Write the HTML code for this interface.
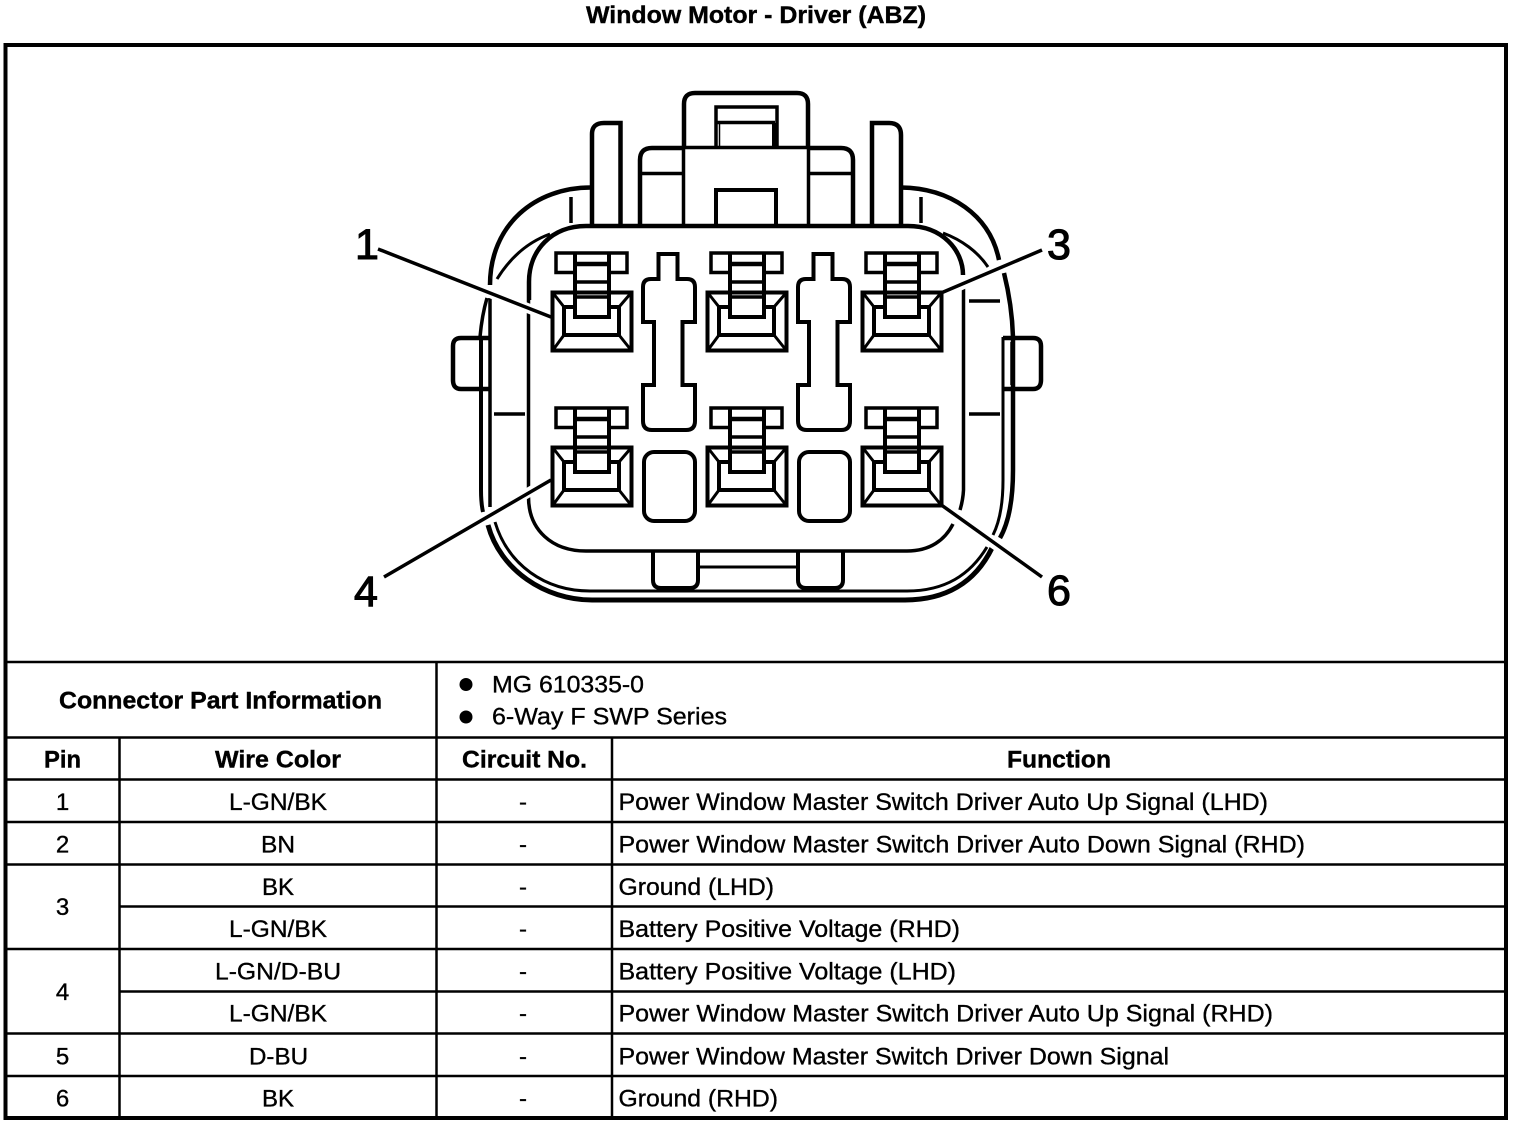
<!DOCTYPE html>
<html><head><meta charset="utf-8"><style>
html,body{margin:0;padding:0;background:#fff}
svg{display:block}
text{font-family:"Liberation Sans",sans-serif;fill:#000}
.b{font-weight:bold}
.t{font-size:24px;stroke:#000;stroke-width:.35px}
.h{font-size:24px;stroke:#000;stroke-width:.4px}
.n{font-size:43px;stroke:#000;stroke-width:1.1px}
.c{text-anchor:middle}
</style></head><body>
<svg width="1520" height="1126" viewBox="0 0 1520 1126" xmlns="http://www.w3.org/2000/svg">
<defs>
<g id="cav" fill="none" stroke="#000">
<path stroke-width="4" d="M552.500 292.500H631.500V350.500H552.500Z"/>
<path stroke-width="4" d="M575 307H564V335H619V307H608"/>
<path stroke-width="3" d="M553 293L564 307M631 293L619 307M553 350L564 335M631 350L619 335"/>
<path stroke-width="3.500" d="M574 272.500H556V253H627V272.500H609"/>
<path stroke-width="4" d="M575 253V317H609V253"/>
<path stroke-width="4.500" d="M575 264H609"/>
<path stroke-width="3.500" d="M575 282H609M575 297H609"/>
</g>
<path id="key" fill="none" stroke="#000" stroke-width="4" d="M658.500 254H677.500V279H687Q695 279 695 287V322H682.500V385H695V421Q695 430 686 430H652Q643 430 643 421V385H654V322H643V287Q643 279 651 279H658.500Z"/>
<rect id="sq" x="644" y="452" width="51" height="69" rx="10" fill="none" stroke="#000" stroke-width="4"/>
</defs>

<text class="b h" x="586" y="23" textLength="340" lengthAdjust="spacingAndGlyphs">Window Motor - Driver (ABZ)</text>

<rect x="5.500" y="45" width="1500.500" height="1073" fill="none" stroke="#000" stroke-width="4"/>

<g fill="none" stroke="#000" stroke-width="3">
<path stroke-width="4.500" d="M592 225V134Q592 123 604 123H620.500V225"/>
<path stroke-width="4.500" d="M872 225V123H889Q901 123 901 135V225"/>
<path stroke-width="4.500" d="M640 225V160Q640 148 652 148H683"/>
<path stroke-width="4.500" d="M809 148H841Q853 148 853 160V225"/>
<path stroke-width="3.500" d="M640 173.500H683M809 173.500H853"/>
<path stroke-width="4.500" d="M684 148V104Q684 93 695 93H797Q808 93 808 104V148"/>
<path stroke-width="3.500" d="M683.500 148V225M808.500 148V225M683 147.500H809"/>
<path stroke-width="3.500" d="M716 147V107H777V147"/>
<path stroke-width="3.500" d="M717 122.500H775"/>
<path stroke-width="1.500" d="M719.500 122V147"/>
<path stroke-width="5" d="M774.500 123V147"/>
<path stroke-width="4" d="M716 225V190H776V225"/>
<path stroke-width="4.500" d="M529 300V282C529 250 552 226 586 226H908C942 226 963 250 963 275"/>
<path stroke-width="3.500" d="M963.500 285V490Q963 500 960 510"/>
<path stroke-width="3.500" d="M528.500 300V497C528.500 530 552 551 586 551H907C930 551 945 540 953 524"/>
<path stroke-width="4.500" d="M592 187.500C535 187 490 225 490 285"/>
<path stroke-width="4.500" d="M901 187.500C950 188 990 215 999 260"/>
<path stroke-width="3.500" d="M490 298V507"/>
<path stroke-width="4" d="M481 337V490Q481 503 483 512"/>
<path stroke-width="3.500" d="M487 298Q482 315 480 337"/>
<path stroke-width="4.500" d="M1004 273Q1012 305 1013 337V470Q1013 515 1000 538"/>
<path stroke-width="3" d="M1003 337V480Q1003 515 993 535"/>
<path stroke-width="5" d="M488 525C500 570 545 600 592 600H905C945 600 975 583 992 548"/>
<path stroke-width="3" d="M495 522C508 565 545 591 590 591H907C945 591 970 575 987 547"/>
<path stroke-width="3" d="M497 279C510 258 528 242 550 234"/>
<path stroke-width="3" d="M943 233C962 240 978 252 988 267"/>
<path stroke-width="3.500" d="M571 197V223M921 197V223"/>
<path stroke-width="3.500" d="M969 301H1000M494 414H525M969 414H1000"/>
<path stroke-width="4.500" d="M489 338H461Q453 338 453 346V380Q453 389 461 389H489"/>
<path stroke-width="3.500" d="M481 342V385"/>
<path stroke-width="4.500" d="M1003 338H1033Q1041 338 1041 346V380Q1041 389 1033 389H1003"/>
<path stroke-width="3.500" d="M1012 342V385"/>
<path stroke-width="4" d="M653 552V580Q653 588 661 588H690Q698 588 698 580V552"/>
<path stroke-width="4" d="M798 552V580Q798 588 806 588H835Q843 588 843 580V552"/>
<path stroke-width="3" d="M698 567H798"/>
</g>

<g stroke="#fff" stroke-width="10" fill="none">
<path d="M470 285L545 315M950 290L1025 257M545 483L470 526M945 510L1020 562"/>
</g>

<use href="#cav"/><use href="#cav" x="155"/><use href="#cav" x="310"/>
<use href="#cav" y="155"/><use href="#cav" x="155" y="155"/><use href="#cav" x="310" y="155"/>
<use href="#key"/><use href="#key" x="155"/>
<use href="#sq"/><use href="#sq" x="155"/>

<g stroke="#000" stroke-width="3.500" fill="none">
<path d="M378 249L551 317"/>
<path d="M1042 250L941 293"/>
<path d="M384 577L551 480"/>
<path d="M940 504L1042 577"/>
</g>
<text class="n c" x="367" y="259">1</text>
<text class="n c" x="1059" y="259">3</text>
<text class="n c" x="366" y="606">4</text>
<text class="n c" x="1059" y="605">6</text>

<g stroke="#000" stroke-width="2.500" fill="none">
<path d="M6 662H1505M6 737.500H1505M6 779.500H1505M6 822H1505M6 864.500H1505M120 906.500H1505M6 949H1505M120 991.500H1505M6 1033.500H1505M6 1076H1505"/>
<path d="M436.500 662V1117M119.500 737.500V1117M612 737.500V1117"/>
</g>

<circle cx="466" cy="684.500" r="6.500"/><circle cx="466" cy="717" r="6.500"/>

<text class="b h" x="59" y="708.500" textLength="323" lengthAdjust="spacingAndGlyphs">Connector Part Information</text>
<text class="t" x="492" y="692.500" textLength="152" lengthAdjust="spacingAndGlyphs">MG 610335-0</text>
<text class="t" x="492" y="724.500" textLength="235" lengthAdjust="spacingAndGlyphs">6-Way F SWP Series</text>

<text class="b h" x="44" y="767.500" textLength="37" lengthAdjust="spacingAndGlyphs">Pin</text>
<text class="b h" x="215" y="767.500" textLength="126" lengthAdjust="spacingAndGlyphs">Wire Color</text>
<text class="b h" x="462" y="767.500" textLength="125" lengthAdjust="spacingAndGlyphs">Circuit No.</text>
<text class="b h" x="1007" y="767.500" textLength="104" lengthAdjust="spacingAndGlyphs">Function</text>

<text class="t c" x="62.500" y="810">1</text>
<text class="t c" x="62.500" y="852.500">2</text>
<text class="t c" x="62.500" y="915">3</text>
<text class="t c" x="62.500" y="1000">4</text>
<text class="t c" x="62.500" y="1064.500">5</text>
<text class="t c" x="62.500" y="1106.500">6</text>

<text class="t" x="229" y="810" textLength="98" lengthAdjust="spacingAndGlyphs">L-GN/BK</text>
<text class="t" x="261" y="852.500" textLength="34" lengthAdjust="spacingAndGlyphs">BN</text>
<text class="t" x="262" y="895" textLength="32" lengthAdjust="spacingAndGlyphs">BK</text>
<text class="t" x="229" y="937" textLength="98" lengthAdjust="spacingAndGlyphs">L-GN/BK</text>
<text class="t" x="215" y="979.500" textLength="126" lengthAdjust="spacingAndGlyphs">L-GN/D-BU</text>
<text class="t" x="229" y="1021.500" textLength="98" lengthAdjust="spacingAndGlyphs">L-GN/BK</text>
<text class="t" x="249" y="1064.500" textLength="59" lengthAdjust="spacingAndGlyphs">D-BU</text>
<text class="t" x="262" y="1106.500" textLength="32" lengthAdjust="spacingAndGlyphs">BK</text>

<text class="t c" x="523" y="810">-</text>
<text class="t c" x="523" y="852.500">-</text>
<text class="t c" x="523" y="895">-</text>
<text class="t c" x="523" y="937">-</text>
<text class="t c" x="523" y="979.500">-</text>
<text class="t c" x="523" y="1021.500">-</text>
<text class="t c" x="523" y="1064.500">-</text>
<text class="t c" x="523" y="1106.500">-</text>

<text class="t" x="618.500" y="810" textLength="649.500" lengthAdjust="spacingAndGlyphs">Power Window Master Switch Driver Auto Up Signal (LHD)</text>
<text class="t" x="618.500" y="852.500" textLength="686.500" lengthAdjust="spacingAndGlyphs">Power Window Master Switch Driver Auto Down Signal (RHD)</text>
<text class="t" x="618.500" y="895" textLength="155.500" lengthAdjust="spacingAndGlyphs">Ground (LHD)</text>
<text class="t" x="618.500" y="937" textLength="341.500" lengthAdjust="spacingAndGlyphs">Battery Positive Voltage (RHD)</text>
<text class="t" x="618.500" y="979.500" textLength="337.500" lengthAdjust="spacingAndGlyphs">Battery Positive Voltage (LHD)</text>
<text class="t" x="618.500" y="1021.500" textLength="654.500" lengthAdjust="spacingAndGlyphs">Power Window Master Switch Driver Auto Up Signal (RHD)</text>
<text class="t" x="618.500" y="1064.500" textLength="550.500" lengthAdjust="spacingAndGlyphs">Power Window Master Switch Driver Down Signal</text>
<text class="t" x="618.500" y="1106.500" textLength="159.500" lengthAdjust="spacingAndGlyphs">Ground (RHD)</text>
</svg>
</body></html>
